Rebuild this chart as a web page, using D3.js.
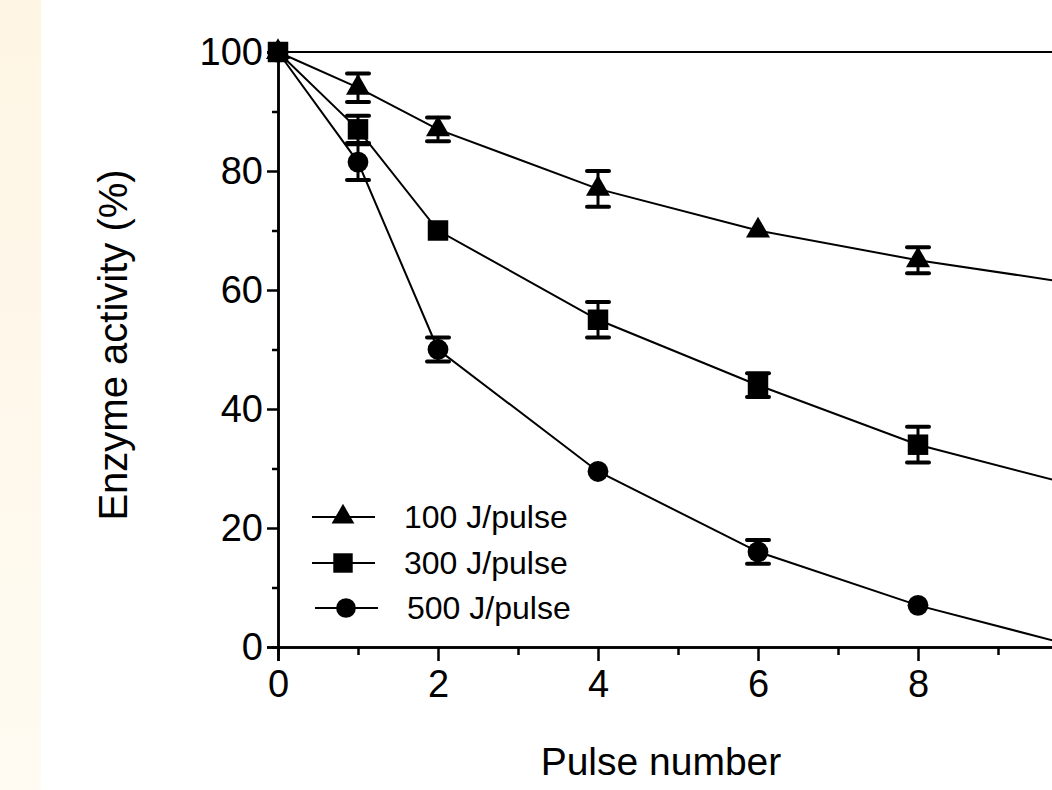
<!DOCTYPE html>
<html>
<head>
<meta charset="utf-8">
<script src="https://cdn.jsdelivr.net/npm/d3@7"></script>
<style>
  body { margin: 0; background: #fff; }
  svg { display: block; font-family: "Liberation Sans", Arial, sans-serif; }
</style>
</head>
<body>
<svg id="chart" width="1052" height="790"></svg>
<script>
// pulse numbers
var pulses = [0, 1, 2, 4, 6, 8, 10];

// enzyme activity (%) per energy level, with error
var act100 = [100, 94, 87, 77, 70, 65, 61];
var err100 = [0, 2.4, 2, 3, 0, 2.2, 0];
var act300 = [100, 87, 70, 55, 44, 34, 27];
var err300 = [0, 2.3, 0, 3, 2, 3, 0];
var act500 = [100, 81.5, 50, 29.5, 16, 7, 0];
var err500 = [0, 3, 2, 0, 2, 0, 0];

var seriesNames = ["100 J/pulse", "300 J/pulse", "500 J/pulse"];
var refLevel = 100;

var xTicks = [0, 2, 4, 6, 8];
var xMinor = [1, 3, 5, 7, 9];
var yTicks = [0, 20, 40, 60, 80, 100];
var yMinor = [10, 30, 50, 70, 90];

var svg = d3.select("#chart");

// cream strip at left
var grad = svg.append("defs").append("linearGradient")
  .attr("id", "cream").attr("x1", 0).attr("y1", 0).attr("x2", 0).attr("y2", 1);
grad.append("stop").attr("offset", "0%").attr("stop-color", "#fef5e4");
grad.append("stop").attr("offset", "100%").attr("stop-color", "#fffbf2");
svg.append("rect").attr("x", 0).attr("y", 0).attr("width", 41).attr("height", 790)
  .attr("fill", "url(#cream)");

var x = d3.scaleLinear().domain([0, 10]).range([278, 1078]);
var y = d3.scaleLinear().domain([0, 100]).range([647, 52]);

// axes
svg.append("g").attr("transform", "translate(" + x(0) + ",0)")
  .call(d3.axisLeft(y).tickValues(yTicks).tickSize(11).tickPadding(4));
svg.append("g").attr("transform", "translate(" + x(0) + ",0)")
  .call(d3.axisLeft(y).tickValues(yMinor).tickSize(6).tickFormat(""));
svg.append("g").attr("transform", "translate(0," + y(0) + ")")
  .call(d3.axisBottom(x).tickValues(xTicks).tickSize(14).tickPadding(9));
svg.append("g").attr("transform", "translate(0," + y(0) + ")")
  .call(d3.axisBottom(x).tickValues(xMinor).tickSize(8).tickFormat(""));

svg.selectAll(".domain").attr("stroke", "#000").attr("stroke-width", 2.5);
svg.selectAll(".tick line").attr("stroke", "#000").attr("stroke-width", 2.5);
svg.selectAll(".tick text").attr("fill", "#000").attr("font-size", 38)
  .attr("font-family", "Liberation Sans, Arial, sans-serif");

// reference line at 100 %
svg.append("line")
  .attr("x1", x(0)).attr("x2", x(10))
  .attr("y1", y(refLevel)).attr("y2", y(refLevel))
  .attr("stroke", "#000").attr("stroke-width", 2);

var symbols = [d3.symbolTriangle, d3.symbolSquare, d3.symbolCircle];
var symSizes = [250, 420, 340];

var data = [
  { name: seriesNames[0], vals: act100, errs: err100, sym: 0 },
  { name: seriesNames[1], vals: act300, errs: err300, sym: 1 },
  { name: seriesNames[2], vals: act500, errs: err500, sym: 2 }
];

var line = d3.line()
  .x(function(d) { return x(d.p); })
  .y(function(d) { return y(d.v); });

// draw order: 500, 100, 300 (squares on top)
[2, 0, 1].forEach(function(i) {
  var s = data[i];
  var pts = pulses.map(function(p, k) { return { p: p, v: s.vals[k], e: s.errs[k] }; });
  var g = svg.append("g");

  g.append("path").datum(pts)
    .attr("d", line).attr("fill", "none")
    .attr("stroke", "#000").attr("stroke-width", 2);

  var eb = g.selectAll(".eb").data(pts.filter(function(d) { return d.e > 0; }))
    .enter().append("g");
  eb.append("line")
    .attr("x1", function(d) { return x(d.p); }).attr("x2", function(d) { return x(d.p); })
    .attr("y1", function(d) { return y(d.v + d.e); }).attr("y2", function(d) { return y(d.v - d.e); })
    .attr("stroke", "#000").attr("stroke-width", 3);
  [1, -1].forEach(function(sgn) {
    eb.append("line")
      .attr("x1", function(d) { return x(d.p) - 11; }).attr("x2", function(d) { return x(d.p) + 11; })
      .attr("y1", function(d) { return y(d.v + sgn * d.e); }).attr("y2", function(d) { return y(d.v + sgn * d.e); })
      .attr("stroke", "#000").attr("stroke-width", 4).attr("stroke-linecap", "round");
  });

  g.selectAll(".pt").data(pts.filter(function(d) { return d.p <= 8; }))
    .enter().append("path")
    .attr("transform", function(d) { return "translate(" + x(d.p) + "," + y(d.v) + ")"; })
    .attr("d", d3.symbol().type(symbols[s.sym]).size(symSizes[s.sym]))
    .attr("fill", "#000");
});

// legend
var legY = [517, 563, 608];
var leg = svg.append("g");
data.forEach(function(s, i) {
  var off = i === 2 ? 3 : 0;
  leg.append("line")
    .attr("x1", 312 + off).attr("x2", 375 + off)
    .attr("y1", legY[i]).attr("y2", legY[i])
    .attr("stroke", "#000").attr("stroke-width", 2);
  leg.append("path")
    .attr("transform", "translate(" + (343 + off) + "," + legY[i] + ")")
    .attr("d", d3.symbol().type(symbols[s.sym]).size(symSizes[s.sym] * 0.9))
    .attr("fill", "#000");
  leg.append("text")
    .attr("x", 404 + off).attr("y", legY[i] + 11)
    .attr("font-size", 32).attr("fill", "#000")
    .text(s.name);
});

// axis titles
svg.append("text")
  .attr("x", 661).attr("y", 775)
  .attr("text-anchor", "middle").attr("font-size", 39)
  .text("Pulse number");

svg.append("text")
  .attr("transform", "translate(127,345) rotate(-90)")
  .attr("text-anchor", "middle").attr("font-size", 40)
  .text("Enzyme activity (%)");
</script>
</body>
</html>
